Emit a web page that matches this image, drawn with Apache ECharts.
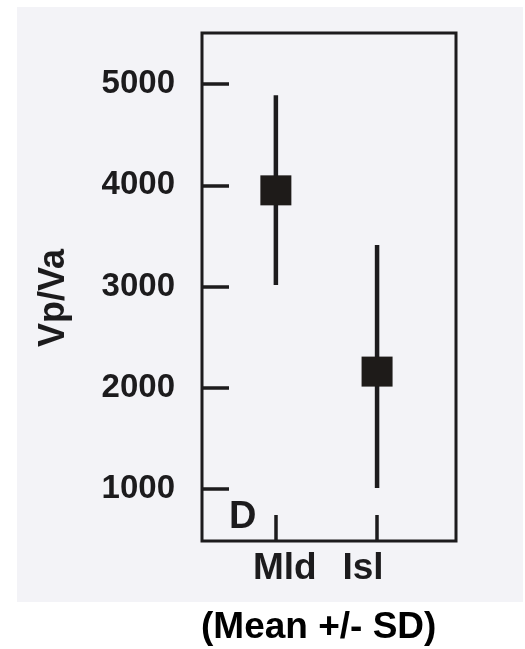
<!DOCTYPE html>
<html>
<head>
<meta charset="utf-8">
<script src="https://cdn.jsdelivr.net/npm/echarts@6/dist/echarts.min.js"></script>
<style>
html,body{margin:0;padding:0;background:#ffffff;}
#chart{width:525px;height:649px;}
</style>
</head>
<body>
<div id="chart"></div>
<script>
// ---- data ----
var categories = ['Mld', 'Isl'];
var means = [3950, 2160];
var sdLow = [3015, 1010];
var sdHigh = [4890, 3410];
var yTicks = [1000, 2000, 3000, 4000, 5000];
var yAxisName = 'Vp/Va';
var panelLetter = 'D';
var footnote = '(Mean +/- SD)';

var ink = '#1c1b1d';
var fontFam = '"Liberation Sans", Arial, Helvetica, sans-serif';

var chart = echarts.init(document.getElementById('chart'), null, {renderer: 'canvas'});

var catPos = categories.map(function (c, i) { return i + 1; });

var option = {
  backgroundColor: '#ffffff',
  animation: false,
  grid: {
    left: 202, right: 69, top: 33, bottom: 108,
    show: true, borderColor: ink, borderWidth: 3, backgroundColor: 'transparent'
  },
  graphic: [
    {
      type: 'rect', z: -10, silent: true,
      shape: {x: 17, y: 7, width: 506, height: 595},
      style: {fill: '#f3f3f7'}
    },
    {
      type: 'text', left: 229, top: 499, z: 10,
      style: {text: panelLetter, font: 'bold 38px ' + fontFam, fill: ink}
    },
    {
      type: 'text', left: 201, top: 609, z: 10,
      style: {text: footnote, font: 'bold 37px ' + fontFam, fill: '#000000'}
    }
  ],
  xAxis: {
    type: 'value',
    min: 0.27,
    max: 2.78,
    axisLine: {show: false},
    splitLine: {show: false},
    axisTick: {
      show: true, inside: true, length: 26,
      customValues: catPos,
      lineStyle: {color: ink, width: 3.5}
    },
    axisLabel: {
      show: true, margin: 9,
      customValues: catPos,
      formatter: function (v) {
        var i = Math.round(v) - 1;
        return i === 0 ? '{a|' + categories[i] + '}' : '{b|' + categories[i] + '}';
      },
      rich: {
        a: {fontSize: 37, fontWeight: 'bold', fontFamily: fontFam, color: ink, padding: [0, 0, 0, 18]},
        b: {fontSize: 37, fontWeight: 'bold', fontFamily: fontFam, color: ink, padding: [0, 28, 0, 0]}
      }
    }
  },
  yAxis: {
    type: 'value',
    min: 487,
    max: 5504,
    name: yAxisName,
    nameLocation: 'middle',
    nameRotate: 90,
    nameGap: 130,
    nameTextStyle: {fontSize: 36, fontWeight: 'bold', fontFamily: fontFam, color: ink, padding: [0, 22, 0, 0]},
    axisLine: {show: false},
    splitLine: {show: false},
    axisTick: {
      show: true, inside: true, length: 27,
      customValues: yTicks,
      lineStyle: {color: ink, width: 3.5}
    },
    axisLabel: {
      show: true, margin: 27,
      customValues: yTicks,
      formatter: function (v) { return String(v); },
      fontSize: 33, fontWeight: 'bold', fontFamily: fontFam, color: ink
    }
  },
  series: [
    {
      type: 'custom',
      name: 'SD',
      renderItem: function (params, api) {
        var x = api.value(0);
        var lo = api.coord([x, api.value(1)]);
        var hi = api.coord([x, api.value(2)]);
        return {
          type: 'line',
          shape: {x1: lo[0], y1: lo[1], x2: hi[0], y2: hi[1]},
          style: {stroke: ink, lineWidth: 4.5}
        };
      },
      data: categories.map(function (c, i) { return [catPos[i], sdLow[i], sdHigh[i]]; }),
      z: 2
    },
    {
      type: 'scatter',
      name: 'Mean',
      symbol: 'rect',
      symbolSize: [31, 30],
      itemStyle: {color: '#1e1b19', opacity: 1},
      data: categories.map(function (c, i) { return [catPos[i], means[i]]; }),
      z: 3
    }
  ]
};
chart.setOption(option);
</script>
</body>
</html>
